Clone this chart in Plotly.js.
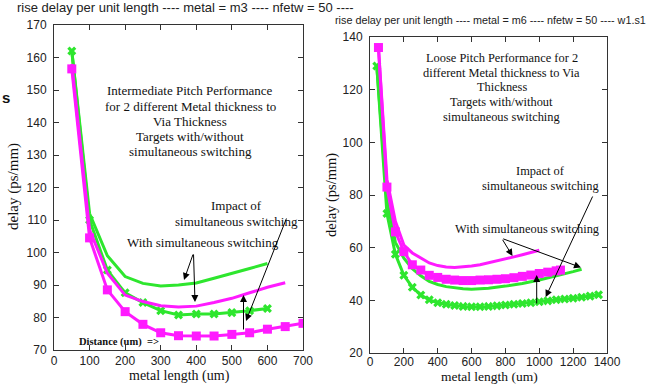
<!DOCTYPE html>
<html><head><meta charset="utf-8">
<script src="https://cdn.plot.ly/plotly-3.0.1.min.js"></script>
<style>html,body{margin:0;padding:0;background:#fff}#chart{width:647px;height:384px}</style>
</head><body><div id="chart"></div>
<script>
// ---------- Left chart (metal = m3) ----------
const leftX_greenLine = [50,100,150,200,250,300,350,400,450,500,550,600];
const leftY_greenLine = [162,112,99,92.6,90.5,89.7,90.0,90.6,92.1,93.5,95.1,96.6];
const leftX_greenMark = [50,100,150,200,250,300,350,400,450,500,550,600];
const leftY_greenMark = [162,110,94.6,87.6,84.6,82.1,80.8,81.1,81.1,81.5,82.1,82.8];
const leftX_magLine = [50,100,150,200,250,300,350,400,450,500,550,600,650];
const leftY_magLine = [158,107,93.6,86.9,84.9,83.6,83.2,83.5,84.6,85.9,87.6,89.3,90.7];
const leftX_magSq = [50,100,150,200,250,300,350,400,450,500,550,600,650,700];
const leftY_magSq = [156.5,104.5,88.5,81.8,77.9,75.3,74.4,74.3,74.3,74.8,75.3,76.4,77.2,78.2];

// ---------- Right chart (metal = m6) ----------
const rightX_magLine = [50,100,150,200,250,300,350,400,450,500,550,600,650,700,750,800,850,900,950,1000];
const rightY_magLine = [136,86,70,61,58,56,54.2,53.2,52.7,52.5,52.7,53,53.5,54.2,54.9,55.6,56.5,57.3,58.2,59];
const rightX_magSq = [50,100,150,200,250,300,350,400,450,500,550,600,650,700,750,800,850,900,950,1000,1050,1100,1125];
const rightY_magSq = [136,83,66,58.5,53.5,51.5,49.5,48.7,48,47.7,47.5,47.5,47.7,47.8,48,48.2,48.6,49.1,49.6,50.2,50.7,51.2,51.5];
const rightX_greenLine = [40,100,150,200,250,300,350,400,450,500,550,600,700,800,900,1000,1100,1200,1250];
const rightY_greenLine = [129,78,62,56,52,49.3,47.2,46,45.2,44.7,44.4,44.2,44.6,45.4,46.4,47.7,49.2,50.9,51.8];
const rightX_greenMark = [40,100,150,200,250,300,350,400,450,500,550,600,650,700,750,800,850,900,950,1000,1050,1100,1150,1200,1250,1300,1350];
const rightY_greenMark = [129,73,57.5,49.5,45,42,40.2,39.1,38.5,38,37.7,37.6,37.6,37.7,37.9,38.2,38.5,38.8,39.1,39.5,39.8,40.2,40.5,40.8,41.2,41.6,42.1];

const leftTitle = "rise delay per unit length ---- metal = m3 ---- nfetw = 50 ---- ";
const rightTitle = "rise delay per unit length ---- metal = m6 ---- nfetw = 50 ---- w1.s1";
const leftNote = ["Intermediate Pitch Performance","for 2 different Metal thickness to","Via Thickness","Targets with/without","simultaneous switching"];
const rightNote = ["Loose Pitch Performance for 2","different Metal thickness to Via","Thickness","Targets with/without","simultaneous switching"];
const impactText = ["Impact of","simultaneous switching"];
const withText = "With simultaneous switching";
const distText = "Distance (um)&nbsp;&nbsp;=>";
const xTitle = "metal length (um)";
const yTitle = "delay (ps/mm)";

const W = 647, H = 384;
const PX = x => x / W, PY = y => 1 - y / H;
const GREEN = '#2ee62e', MAG = '#ff1aff';

function line(x, y, c, xa, ya) {
  return {x, y, xaxis: xa, yaxis: ya, mode: 'lines', line: {color: c, width: 3}, hoverinfo: 'skip'};
}
function marks(x, y, c, sym, size, xa, ya) {
  return {x, y, xaxis: xa, yaxis: ya, mode: 'lines+markers', line: {color: c, width: 3},
          marker: {symbol: sym, size: size, color: c}, hoverinfo: 'skip'};
}

const data = [
  line(leftX_greenLine, leftY_greenLine, GREEN, 'x', 'y'),
  marks(leftX_greenMark, leftY_greenMark, GREEN, 'x', 8, 'x', 'y'),
  line(leftX_magLine, leftY_magLine, MAG, 'x', 'y'),
  marks(leftX_magSq, leftY_magSq, MAG, 'square', 9, 'x', 'y'),
  line(rightX_greenLine, rightY_greenLine, GREEN, 'x2', 'y2'),
  marks(rightX_greenMark, rightY_greenMark, GREEN, 'x', 8, 'x2', 'y2'),
  line(rightX_magLine, rightY_magLine, MAG, 'x2', 'y2'),
  marks(rightX_magSq, rightY_magSq, MAG, 'square', 9, 'x2', 'y2')
];

const SANS = "'Liberation Sans', Arial, sans-serif";
const SERIF = "'Liberation Serif', 'Times New Roman', serif";
const tickFont = {family: SANS, size: 12, color: '#222'};
function axis(extra) {
  return Object.assign({showgrid: false, zeroline: false, showline: true, linecolor: '#333', linewidth: 1,
    mirror: 'allticks', ticks: 'inside', ticklen: 5, tickcolor: '#333', tickfont: tickFont,
    fixedrange: true}, extra);
}

const ann = [];
function txt(text, x, y, size, opts) {
  ann.push(Object.assign({text, x: PX(x), y: PY(y), xref: 'paper', yref: 'paper', showarrow: false,
    xanchor: 'center', yanchor: 'middle', font: {family: SERIF, size: size, color: '#111'}}, opts || {}));
}
function arrow(tx, ty, hx, hy) {
  ann.push({text: '', x: PX(hx), y: PY(hy), xref: 'paper', yref: 'paper', showarrow: true,
    ax: tx - hx, ay: ty - hy, axref: 'pixel', ayref: 'pixel', arrowhead: 2, arrowsize: 1.4,
    arrowwidth: 1, arrowcolor: '#000', standoff: 0, startstandoff: 0});
}

// titles
txt(leftTitle, 15, 7.5, 13, {xanchor: 'left', font: {family: SANS, size: 13, color: '#222'}});
txt(rightTitle, 333, 20.5, 10.8, {xanchor: 'left', font: {family: SANS, size: 10.8, color: '#222'}});
txt('<b>s</b>', 0, 97, 15, {xanchor: 'left', font: {family: SANS, size: 15, color: '#111'}});

// left notes
const leftNoteY = [90.7, 106.3, 121.7, 136.9, 152];
leftNote.forEach((t, i) => txt(t, 190.5, leftNoteY[i], 13));
txt(impactText[0], 236, 205, 13);
txt(impactText[1], 236, 221, 13);
txt(withText, 202.5, 242, 13);
txt('<b>' + distText + '</b>', 119, 342, 10.5);
txt(xTitle, 179, 376, 14);
txt(yTitle, 13, 187, 15, {textangle: -90});

// right notes
const rightNoteY = [58.3, 72.7, 87.3, 101.7, 116.7];
rightNote.forEach((t, i) => txt(t, 501.7, rightNoteY[i], 12.4));
txt(impactText[0], 540.7, 170.7, 12.4);
txt(impactText[1], 540.7, 186, 12.4);
txt(withText, 527, 229.3, 12.4);
txt(xTitle, 489, 376.5, 13.5);
txt(yTitle, 331, 195, 14.5, {textangle: -90});

// arrows (left)
arrow(193.5, 253, 184, 280);
arrow(193.5, 253, 195, 302);
arrow(287, 217, 246, 321);
arrow(243.5, 331, 243.5, 295);
// arrows (right)
arrow(501.7, 238.3, 512.5, 256);
arrow(501.7, 238.3, 581, 267.5);
arrow(593.3, 195, 545.7, 297);
arrow(536.7, 305, 536.7, 275);

const layout = {
  width: W, height: H, margin: {l: 0, r: 0, t: 0, b: 0},
  paper_bgcolor: '#fff', plot_bgcolor: '#fff', showlegend: false,
  xaxis: axis({domain: [PX(54), PX(303)], range: [0, 700], dtick: 100, tick0: 0, anchor: 'y', ticklabelstandoff: 0}),
  yaxis: axis({domain: [PY(350), PY(25)], range: [70, 170], dtick: 10, tick0: 70, anchor: 'x', ticklabelstandoff: 4}),
  xaxis2: axis({domain: [PX(370), PX(607)], range: [0, 1400], dtick: 200, tick0: 0, anchor: 'y2', ticklabelstandoff: -2}),
  yaxis2: axis({domain: [PY(353), PY(37)], range: [20, 140], dtick: 20, tick0: 20, anchor: 'x2', ticklabelstandoff: 4}),
  annotations: ann
};

Plotly.newPlot('chart', data, layout, {staticPlot: true, displayModeBar: false});
</script></body></html>
